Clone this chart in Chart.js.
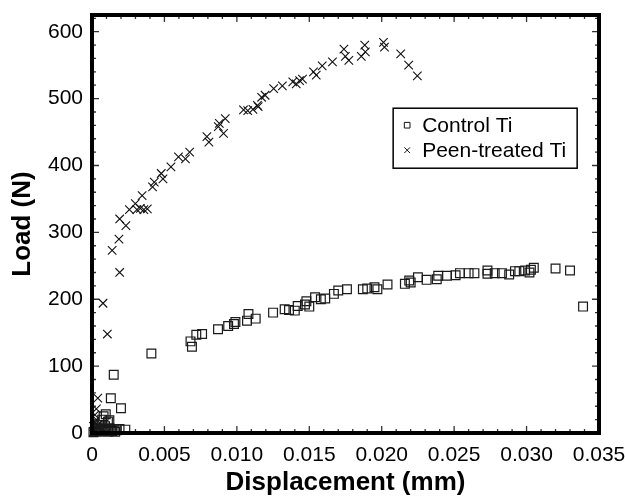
<!DOCTYPE html>
<html>
<head>
<meta charset="utf-8">
<script src="https://cdn.jsdelivr.net/npm/chart.js@4.4.1/dist/chart.umd.min.js"></script>
<style>
  html, body { margin: 0; padding: 0; background: #fff; }
  canvas { display: block; }
</style>
</head>
<body>
<canvas id="loadChart" width="625" height="499" style="width:625px;height:499px"></canvas>
<script>
// Control Ti (squares)
const controlX = [
  0.0001, 0.0002, 0.0003, 0.0004, 0.0005, 0.0006, 0.0007, 0.0008, 0.0009, 0.0010,
  0.0011, 0.0012, 0.0013, 0.0014, 0.0015, 0.0016, 0.0017, 0.0019, 0.0023, 0.0005,
  0.0007, 0.0008, 0.00095, 0.0011, 0.0012, 0.0013, 0.0015, 0.0020, 0.0041,
  0.0068, 0.0069, 0.0072, 0.0076, 0.0087, 0.0094, 0.0098, 0.0099, 0.0107, 0.0108,
  0.0113, 0.0125, 0.0133, 0.0136, 0.0140, 0.0142, 0.0147, 0.0150, 0.0148, 0.0154,
  0.0158, 0.0161, 0.0167, 0.0170, 0.0176, 0.0187, 0.0190, 0.0195, 0.0197, 0.0204,
  0.0216, 0.0219, 0.0220, 0.0225, 0.0231, 0.0238, 0.0239, 0.0245, 0.0251, 0.0254,
  0.0260, 0.0264, 0.0273, 0.0273, 0.0278, 0.0283, 0.0288, 0.0292, 0.0295, 0.0299,
  0.0302, 0.0303, 0.0305, 0.0320, 0.0330, 0.0339
];
const controlY = [
  1, 3, 5, 2, 8, 4, 6, 3, 10, 5,
  2, 7, 4, 3, 6, 2, 4, 6, 5, 12,
  20, 25, 28, 17, 19, 52, 87, 37, 119,
  137, 129, 147, 148, 155, 160, 163, 166, 168, 178,
  171, 180, 185, 184, 183, 190, 192, 189, 197, 203,
  200, 201, 208, 213, 215, 215, 216, 218, 215, 222,
  223, 228, 225, 233, 229, 230, 235, 235, 236, 239,
  239, 239, 238, 243, 239, 239, 237, 242, 242, 243,
  240, 244, 247, 246, 243, 189
];

// Peen-treated Ti (crosses)
const peenX = [
  0.0001, 0.0002, 0.0001, 0.0002, 0.0003, 0.0002, 0.0003, 0.0004, 0.0005, 0.0006, 0.0004,
  0.00076, 0.00106, 0.00139, 0.00186, 0.00191, 0.00191, 0.00234, 0.00258, 0.00299, 0.0031,
  0.00334, 0.00346, 0.00358, 0.00382, 0.00418, 0.0043, 0.00478, 0.0049, 0.00545, 0.00597,
  0.00645, 0.00674, 0.00793, 0.00807, 0.00872, 0.00879, 0.00908, 0.0092, 0.01046, 0.01075,
  0.01111, 0.01142, 0.01147, 0.01171, 0.01195, 0.01254, 0.01314, 0.01386, 0.0141, 0.01433,
  0.01453, 0.01529, 0.01548, 0.01589, 0.0166, 0.01739, 0.01749, 0.01773, 0.01859, 0.01883,
  0.01887, 0.02012, 0.02019, 0.02131, 0.02186, 0.02246
];
const peenY = [
  2, 5, 10, 15, 20, 27, 36, 52, 8, 3, 12,
  194, 148, 273, 290, 240, 320, 310, 334, 343, 334,
  336, 355, 334, 335, 368, 375, 388, 380, 398, 413,
  410, 420, 443, 435, 458, 463, 448, 470, 483, 482,
  484, 490, 488, 502, 505, 515, 519, 525, 522, 527,
  529, 540, 535, 549, 555, 574, 563, 557, 563, 580,
  570, 584, 577, 567, 550, 534
];

const seriesNames = ["Control Ti", "Peen-treated Ti"];
const xTickValues = [0, 0.005, 0.010, 0.015, 0.020, 0.025, 0.030, 0.035];
const xTickLabels = ["0", "0.005", "0.010", "0.015", "0.020", "0.025", "0.030", "0.035"];
const yTickValues = [0, 100, 200, 300, 400, 500, 600];
const yTickLabels = ["0", "100", "200", "300", "400", "500", "600"];

const FONT = "'Liberation Sans', Arial, Helvetica, sans-serif";

const toPoints = (xs, ys) => xs.map((x, i) => ({ x: x, y: ys[i] }));

// thick frame + inward ticks on all four sides
const framePlugin = {
  id: "frame",
  afterDatasetsDraw(chart) {
    const { ctx, chartArea: a, scales: { x, y } } = chart;
    ctx.save();
    ctx.strokeStyle = "#333";
    ctx.lineWidth = 1.3;
    ctx.beginPath();
    for (let i = 0; i <= 35; i++) {
      const px = x.getPixelForValue(i * 0.001);
      const len = i % 5 === 0 ? 7 : 4;
      ctx.moveTo(px, a.bottom); ctx.lineTo(px, a.bottom - len);
      ctx.moveTo(px, a.top); ctx.lineTo(px, a.top + len);
    }
    for (let v = 0; v <= 625; v += 20) {
      const py = y.getPixelForValue(v);
      const len = v % 100 === 0 ? 7 : 4;
      ctx.moveTo(a.left, py); ctx.lineTo(a.left + len, py);
      ctx.moveTo(a.right, py); ctx.lineTo(a.right - len, py);
    }
    ctx.stroke();
    ctx.strokeStyle = "#000";
    ctx.lineWidth = 4;
    ctx.strokeRect(a.left, a.top, a.right - a.left, a.bottom - a.top);
    ctx.restore();
  }
};

// boxed legend inside the plot
const boxLegend = {
  id: "boxLegend",
  afterDraw(chart) {
    const { ctx, chartArea: a } = chart;
    const left = a.left + 0.594 * (a.right - a.left);
    const top = a.top + 0.223 * (a.bottom - a.top);
    const w = 184, h = 60;
    ctx.save();
    ctx.fillStyle = "#fff";
    ctx.fillRect(left, top, w, h);
    ctx.strokeStyle = "#000";
    ctx.lineWidth = 1.5;
    ctx.strokeRect(left, top, w, h);
    ctx.font = "21px " + FONT;
    ctx.textBaseline = "middle";
    chart.data.datasets.forEach((ds, i) => {
      const cy = top + 17 + i * 25;
      ctx.strokeStyle = "#111";
      ctx.fillStyle = "rgba(0,0,0,0)";
      ctx.lineWidth = 1;
      Chart.helpers.drawPoint(ctx, { pointStyle: ds.pointStyle, radius: 4, borderWidth: 1, rotation: 0 }, left + 14, cy);
      ctx.fillStyle = "#000";
      ctx.fillText(ds.label, left + 29, cy + 1);
    });
    ctx.restore();
  }
};

new Chart(document.getElementById("loadChart"), {
  type: "scatter",
  data: {
    datasets: [
      {
        label: seriesNames[0],
        data: toPoints(controlX, controlY),
        pointStyle: "rect",
        pointRadius: 6.2,
        pointBorderWidth: 1.2,
        pointBorderColor: "#1a1a1a",
        pointBackgroundColor: "rgba(0,0,0,0)",
        clip: false
      },
      {
        label: seriesNames[1],
        data: toPoints(peenX, peenY),
        pointStyle: "crossRot",
        pointRadius: 6,
        pointBorderWidth: 1.1,
        pointBorderColor: "#111",
        pointBackgroundColor: "rgba(0,0,0,0)",
        clip: false
      }
    ]
  },
  plugins: [framePlugin, boxLegend],
  options: {
    responsive: false,
    animation: false,
    layout: { padding: { left: 0, right: 26, top: 15, bottom: 0 } },
    plugins: { legend: { display: false }, tooltip: { enabled: false } },
    scales: {
      x: {
        type: "linear",
        min: 0,
        max: 0.035,
        afterBuildTicks: s => { s.ticks = xTickValues.map(v => ({ value: v })); },
        afterFit: s => { s.height = 66; s.paddingLeft = 0; s.paddingRight = 0; },
        grid: { display: false, drawTicks: false },
        border: { display: false },
        ticks: {
          padding: 10,
          color: "#000",
          font: { family: FONT, size: 21 },
          maxRotation: 0,
          autoSkip: false,
          callback: (v, i) => xTickLabels[i]
        },
        title: {
          display: true,
          text: "Displacement (mm)",
          color: "#000",
          font: { family: FONT, size: 26, weight: "bold" },
          padding: { top: 1, bottom: 1 }
        }
      },
      y: {
        type: "linear",
        min: 0,
        max: 625,
        afterBuildTicks: s => { s.ticks = yTickValues.map(v => ({ value: v })); },
        afterFit: s => { s.width = 92; s.paddingTop = 0; s.paddingBottom = 0; },
        grid: { display: false, drawTicks: false },
        border: { display: false },
        ticks: {
          padding: 9,
          color: "#000",
          font: { family: FONT, size: 21 },
          autoSkip: false,
          callback: (v, i) => yTickLabels[i]
        },
        title: {
          display: true,
          text: "Load (N)",
          color: "#000",
          font: { family: FONT, size: 26, weight: "bold" },
          padding: { top: 7, bottom: 7 }
        }
      }
    }
  }
});
</script>
</body>
</html>
